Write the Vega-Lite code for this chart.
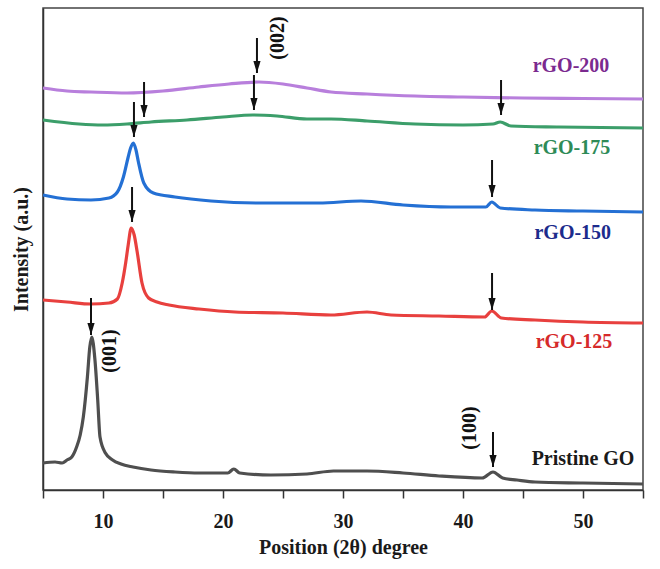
{
  "$schema": "https://vega.github.io/schema/vega-lite/v6.json",
  "autosize": {"type": "none"},
  "width": 600,
  "height": 482,
  "padding": {"left": 43, "top": 8, "right": 17, "bottom": 79},
  "background": "white",
  "config": {
    "view": {"stroke": "#444", "strokeWidth": 1.5},
    "font": "Liberation Serif",
    "axis": {"grid": false, "domainColor": "#333", "domainWidth": 1.5, "tickColor": "#333", "tickWidth": 1.5, "labelFont": "Liberation Serif", "titleFont": "Liberation Serif", "labelFontWeight": "bold", "titleFontWeight": "bold", "labelColor": "#1a1a1a", "titleColor": "#1a1a1a"}
  },
  "datasets": {
    "xrd": [
      {"s": "Pristine GO", "x": 5, "y": 27}, {"s": "Pristine GO", "x": 6, "y": 28}, {"s": "Pristine GO", "x": 6.6, "y": 27}, {"s": "Pristine GO", "x": 7.0, "y": 30}, {"s": "Pristine GO", "x": 7.4, "y": 33},
      {"s": "Pristine GO", "x": 7.8, "y": 43}, {"s": "Pristine GO", "x": 8.1, "y": 55}, {"s": "Pristine GO", "x": 8.36, "y": 73}, {"s": "Pristine GO", "x": 8.7, "y": 113}, {"s": "Pristine GO", "x": 8.9, "y": 143},
      {"s": "Pristine GO", "x": 9.06, "y": 153}, {"s": "Pristine GO", "x": 9.33, "y": 130}, {"s": "Pristine GO", "x": 9.56, "y": 90}, {"s": "Pristine GO", "x": 9.75, "y": 53}, {"s": "Pristine GO", "x": 10.2, "y": 37},
      {"s": "Pristine GO", "x": 10.8, "y": 30}, {"s": "Pristine GO", "x": 11.5, "y": 26}, {"s": "Pristine GO", "x": 12.5, "y": 23}, {"s": "Pristine GO", "x": 14, "y": 20}, {"s": "Pristine GO", "x": 16, "y": 18},
      {"s": "Pristine GO", "x": 18, "y": 17}, {"s": "Pristine GO", "x": 20.4, "y": 17}, {"s": "Pristine GO", "x": 20.9, "y": 21}, {"s": "Pristine GO", "x": 21.4, "y": 17}, {"s": "Pristine GO", "x": 24, "y": 15},
      {"s": "Pristine GO", "x": 27, "y": 16}, {"s": "Pristine GO", "x": 29.2, "y": 19}, {"s": "Pristine GO", "x": 32, "y": 19}, {"s": "Pristine GO", "x": 35, "y": 17}, {"s": "Pristine GO", "x": 38, "y": 14},
      {"s": "Pristine GO", "x": 41.6, "y": 12}, {"s": "Pristine GO", "x": 42.5, "y": 18}, {"s": "Pristine GO", "x": 43.3, "y": 12}, {"s": "Pristine GO", "x": 44.5, "y": 10}, {"s": "Pristine GO", "x": 46, "y": 8},
      {"s": "Pristine GO", "x": 50, "y": 7}, {"s": "Pristine GO", "x": 55, "y": 6},

      {"s": "rGO-125", "x": 5, "y": 190}, {"s": "rGO-125", "x": 7, "y": 188}, {"s": "rGO-125", "x": 9, "y": 186}, {"s": "rGO-125", "x": 10.5, "y": 187}, {"s": "rGO-125", "x": 11.2, "y": 191},
      {"s": "rGO-125", "x": 11.6, "y": 207}, {"s": "rGO-125", "x": 11.9, "y": 228}, {"s": "rGO-125", "x": 12.1, "y": 245}, {"s": "rGO-125", "x": 12.35, "y": 262}, {"s": "rGO-125", "x": 12.6, "y": 255},
      {"s": "rGO-125", "x": 12.85, "y": 238}, {"s": "rGO-125", "x": 13.25, "y": 207}, {"s": "rGO-125", "x": 13.8, "y": 192}, {"s": "rGO-125", "x": 14.5, "y": 188}, {"s": "rGO-125", "x": 15.5, "y": 185},
      {"s": "rGO-125", "x": 18, "y": 181}, {"s": "rGO-125", "x": 21, "y": 178}, {"s": "rGO-125", "x": 25, "y": 177}, {"s": "rGO-125", "x": 29, "y": 175}, {"s": "rGO-125", "x": 32, "y": 178},
      {"s": "rGO-125", "x": 34, "y": 175}, {"s": "rGO-125", "x": 38, "y": 174}, {"s": "rGO-125", "x": 41.8, "y": 173}, {"s": "rGO-125", "x": 42.4, "y": 179}, {"s": "rGO-125", "x": 43.2, "y": 172},
      {"s": "rGO-125", "x": 46, "y": 170}, {"s": "rGO-125", "x": 50, "y": 168}, {"s": "rGO-125", "x": 55, "y": 167},

      {"s": "rGO-150", "x": 5, "y": 295}, {"s": "rGO-150", "x": 7, "y": 291}, {"s": "rGO-150", "x": 9, "y": 290}, {"s": "rGO-150", "x": 10.5, "y": 292}, {"s": "rGO-150", "x": 11.2, "y": 298},
      {"s": "rGO-150", "x": 11.7, "y": 313}, {"s": "rGO-150", "x": 12.1, "y": 333}, {"s": "rGO-150", "x": 12.3, "y": 342}, {"s": "rGO-150", "x": 12.53, "y": 347}, {"s": "rGO-150", "x": 12.75, "y": 340},
      {"s": "rGO-150", "x": 12.95, "y": 328}, {"s": "rGO-150", "x": 13.4, "y": 307}, {"s": "rGO-150", "x": 14.2, "y": 297}, {"s": "rGO-150", "x": 16, "y": 293}, {"s": "rGO-150", "x": 19, "y": 289},
      {"s": "rGO-150", "x": 23, "y": 287}, {"s": "rGO-150", "x": 28, "y": 287}, {"s": "rGO-150", "x": 31.5, "y": 289}, {"s": "rGO-150", "x": 35, "y": 285}, {"s": "rGO-150", "x": 39, "y": 283},
      {"s": "rGO-150", "x": 41.9, "y": 283}, {"s": "rGO-150", "x": 42.4, "y": 288}, {"s": "rGO-150", "x": 43.1, "y": 282}, {"s": "rGO-150", "x": 46, "y": 280}, {"s": "rGO-150", "x": 50, "y": 279},
      {"s": "rGO-150", "x": 55, "y": 278},

      {"s": "rGO-175", "x": 5, "y": 370}, {"s": "rGO-175", "x": 8, "y": 366}, {"s": "rGO-175", "x": 10, "y": 365}, {"s": "rGO-175", "x": 12, "y": 366}, {"s": "rGO-175", "x": 14, "y": 368},
      {"s": "rGO-175", "x": 17, "y": 370}, {"s": "rGO-175", "x": 20, "y": 373}, {"s": "rGO-175", "x": 22.5, "y": 375}, {"s": "rGO-175", "x": 24.5, "y": 374}, {"s": "rGO-175", "x": 27, "y": 371},
      {"s": "rGO-175", "x": 29, "y": 371}, {"s": "rGO-175", "x": 32, "y": 369}, {"s": "rGO-175", "x": 36, "y": 366}, {"s": "rGO-175", "x": 40, "y": 365}, {"s": "rGO-175", "x": 42.5, "y": 366},
      {"s": "rGO-175", "x": 43.1, "y": 368}, {"s": "rGO-175", "x": 44, "y": 364}, {"s": "rGO-175", "x": 48, "y": 363}, {"s": "rGO-175", "x": 55, "y": 362},

      {"s": "rGO-200", "x": 5, "y": 402}, {"s": "rGO-200", "x": 7, "y": 399}, {"s": "rGO-200", "x": 9, "y": 398}, {"s": "rGO-200", "x": 12, "y": 397}, {"s": "rGO-200", "x": 15, "y": 399},
      {"s": "rGO-200", "x": 18, "y": 403}, {"s": "rGO-200", "x": 20.5, "y": 406}, {"s": "rGO-200", "x": 23, "y": 408}, {"s": "rGO-200", "x": 25, "y": 406}, {"s": "rGO-200", "x": 27, "y": 402},
      {"s": "rGO-200", "x": 29, "y": 398}, {"s": "rGO-200", "x": 32, "y": 396}, {"s": "rGO-200", "x": 36, "y": 394}, {"s": "rGO-200", "x": 40, "y": 393}, {"s": "rGO-200", "x": 45, "y": 392},
      {"s": "rGO-200", "x": 50, "y": 391.5}, {"s": "rGO-200", "x": 55, "y": 391}
    ],
    "arrows": [
      {"x": 22.83, "top": 452, "tip": 417},
      {"x": 13.42, "top": 408, "tip": 373},
      {"x": 22.58, "top": 415, "tip": 380},
      {"x": 43.17, "top": 410, "tip": 375},
      {"x": 12.58, "top": 388, "tip": 353},
      {"x": 42.42, "top": 330, "tip": 293},
      {"x": 12.42, "top": 303, "tip": 268},
      {"x": 42.42, "top": 217, "tip": 180},
      {"x": 9.0, "top": 192, "tip": 155},
      {"x": 42.5, "top": 58, "tip": 23}
    ],
    "labels": [
      {"t": "rGO-200", "x": 49.0, "y": 418},
      {"t": "rGO-175", "x": 49.08, "y": 336},
      {"t": "rGO-150", "x": 49.15, "y": 251},
      {"t": "rGO-125", "x": 49.25, "y": 142},
      {"t": "Pristine GO", "x": 50.0, "y": 25}
    ],
    "planes": [
      {"t": "(002)", "x": 24.58, "y": 452},
      {"t": "(001)", "x": 10.58, "y": 139},
      {"t": "(100)", "x": 40.58, "y": 62}
    ]
  },
  "layer": [
    {
      "data": {"name": "xrd"},
      "mark": {"type": "line", "strokeWidth": 3.2, "interpolate": "monotone"},
      "encoding": {
        "x": {"field": "x", "type": "quantitative", "scale": {"domain": [5, 55], "nice": false, "zero": false},
          "axis": {"title": "Position (2θ) degree", "values": [5, 10, 15, 20, 25, 30, 35, 40, 45, 50, 55], "labelExpr": "datum.value % 10 === 0 ? datum.label : ''", "labelFontSize": 20, "titleFontSize": 20, "tickSize": 8, "labelPadding": 13, "titlePadding": 6, "labelFlush": false,
            "encoding": {"ticks": {"update": {"y2": {"signal": "datum.value % 10 === 0 ? 8 : 5"}}}}}},
        "y": {"field": "y", "type": "quantitative", "scale": {"domain": [0, 482], "nice": false},
          "axis": {"title": "Intensity (a.u.)", "ticks": false, "labels": false, "titleFontSize": 20, "titlePadding": 12}},
        "stroke": {"field": "s", "type": "nominal", "legend": null,
          "scale": {"domain": ["Pristine GO", "rGO-125", "rGO-150", "rGO-175", "rGO-200"], "range": ["#4f4f4f", "#e8403e", "#2470d4", "#3c9e6a", "#b87fdc"]}},
        "detail": {"field": "s"}
      }
    },
    {
      "data": {"name": "arrows"},
      "mark": {"type": "rule", "color": "#111", "strokeWidth": 2},
      "encoding": {
        "x": {"field": "x", "type": "quantitative"},
        "y": {"field": "top", "type": "quantitative"},
        "y2": {"field": "tip"}
      }
    },
    {
      "data": {"name": "arrows"},
      "mark": {"type": "point", "shape": "M -0.3 -1 L 0.3 -1 L 0 0 Z", "filled": true, "color": "#111", "opacity": 1, "size": 576},
      "encoding": {
        "x": {"field": "x", "type": "quantitative"},
        "y": {"field": "tip", "type": "quantitative"}
      }
    },
    {
      "data": {"name": "labels"},
      "mark": {"type": "text", "font": "Liberation Serif", "fontWeight": "bold", "fontSize": 20, "align": "center", "baseline": "alphabetic"},
      "encoding": {
        "x": {"field": "x", "type": "quantitative"},
        "y": {"field": "y", "type": "quantitative"},
        "text": {"field": "t"},
        "fill": {"field": "t", "type": "nominal", "legend": null,
          "scale": {"domain": ["Pristine GO", "rGO-125", "rGO-150", "rGO-175", "rGO-200"], "range": ["#1a1a1a", "#d62a2a", "#1c2b8c", "#2e8b57", "#7b2a8f"]}}
      }
    },
    {
      "data": {"name": "planes"},
      "mark": {"type": "text", "font": "Liberation Serif", "fontWeight": "bold", "fontSize": 20, "angle": 270, "align": "center", "baseline": "middle", "color": "#111"},
      "encoding": {
        "x": {"field": "x", "type": "quantitative"},
        "y": {"field": "y", "type": "quantitative"},
        "text": {"field": "t"}
      }
    }
  ]
}
